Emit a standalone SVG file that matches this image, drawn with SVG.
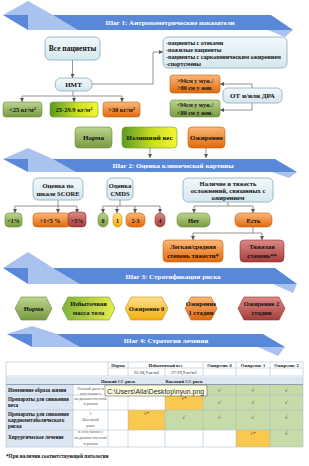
<svg xmlns="http://www.w3.org/2000/svg" width="309" height="466" viewBox="0 0 309 466">
<defs>
<linearGradient id="gBlue" x1="0" y1="0" x2="0" y2="1"><stop offset="0" stop-color="#f2f8fb"/><stop offset="1" stop-color="#d6e7ef"/></linearGradient>
<linearGradient id="gGreen" x1="0" y1="0" x2="0" y2="1"><stop offset="0" stop-color="#bcd58f"/><stop offset="1" stop-color="#789a40"/></linearGradient>
<linearGradient id="gOrange" x1="0" y1="0" x2="0" y2="1"><stop offset="0" stop-color="#fbb87a"/><stop offset="1" stop-color="#e2690b"/></linearGradient>
<linearGradient id="gRed" x1="0" y1="0" x2="0" y2="1"><stop offset="0" stop-color="#dc8a87"/><stop offset="1" stop-color="#a63d3a"/></linearGradient>
<linearGradient id="gYellow" x1="0" y1="0" x2="0" y2="1"><stop offset="0" stop-color="#fde08a"/><stop offset="1" stop-color="#f2ae10"/></linearGradient>
<linearGradient id="gYG" x1="0" y1="0" x2="1" y2="0"><stop offset="0" stop-color="#5a9a22"/><stop offset="0.55" stop-color="#c8de22"/><stop offset="1" stop-color="#f7f432"/></linearGradient>
<linearGradient id="gYG2" x1="0" y1="0" x2="1" y2="0"><stop offset="0" stop-color="#7fb23a"/><stop offset="1" stop-color="#e8ec4a"/></linearGradient>
<marker id="arr" markerUnits="userSpaceOnUse" markerWidth="4" markerHeight="4" refX="4" refY="2" orient="auto"><path d="M0,0 L4,2 L0,4 z" fill="#555"/></marker>
<style>
.bl{fill:#aac3ee}.bd{fill:#5a88d8}
.bt{font-family:"Liberation Serif",serif;font-weight:bold;font-size:7px;fill:#fff;text-anchor:middle}
.t{font-family:"Liberation Serif",serif;font-weight:bold;font-size:7px;fill:#111;text-anchor:middle}
.ts{font-family:"Liberation Serif",serif;font-weight:bold;font-size:6px;fill:#111}
.nb{fill:url(#gBlue);stroke:#86a9bd;stroke-width:0.8}
.ng{fill:url(#gGreen);stroke:#6c8b38;stroke-width:0.6}
.no{fill:url(#gOrange);stroke:#c45f0c;stroke-width:0.6}
.nr{fill:url(#gRed);stroke:#8a3331;stroke-width:0.6}
.ny{fill:url(#gYellow);stroke:#c9900c;stroke-width:0.6}
.nyg{fill:url(#gYG);stroke:#6e9a2a;stroke-width:0.6}
.c{fill:none;stroke:#666;stroke-width:0.7}
.ca{fill:none;stroke:#666;stroke-width:0.7;marker-end:url(#arr)}
.tb{font-family:"Liberation Serif",serif;font-size:4.5px;fill:#222;text-anchor:middle}
.tbb{font-family:"Liberation Serif",serif;font-weight:bold;font-size:5.2px;fill:#111}
.tg{font-family:"Liberation Serif",serif;font-size:4.3px;fill:#666;text-anchor:middle}
.ck{font-family:"DejaVu Sans",sans-serif;font-size:4.5px;fill:#333;text-anchor:middle}
.grid{stroke:#a3b5c9;stroke-width:0.5;fill:none}
</style>
</defs>
<rect width="309" height="466" fill="#fff"/>

<!-- banners -->
<g id="banner1">
<polygon class="bl" points="3,15 28,1 53,15"/>
<polygon class="bd" points="3,15 271,15 293,30 28,30"/>
<polygon class="bl" points="28,15 53,15 78,30 28,30"/>
<polygon class="bl" points="268,30 293,30 285,37"/>
<text class="bt" x="170" y="25">Шаг 1: Антропометрические показатели</text>
</g>
<g id="banner2">
<polygon class="bl" points="3,159 28,148 53,159"/>
<polygon class="bd" points="3,159 275,159 297,172 28,172"/>
<polygon class="bl" points="28,159 53,159 76,172 28,172"/>
<polygon class="bl" points="272,172 297,172 289,178"/>
<text class="bt" x="173" y="168">Шаг 2: Оценка клинической картины</text>
</g>
<g id="banner3">
<polygon class="bl" points="3,268 28,252 53,268"/>
<polygon class="bd" points="3,268 275,268 297,284 28,284"/>
<polygon class="bl" points="28,268 53,268 80,284 28,284"/>
<polygon class="bl" points="273,284 297,284 293,293"/>
<text class="bt" x="173" y="279">Шаг 3: Стратификация риска</text>
</g>
<g id="banner4">
<polygon class="bl" points="7,334 32,326 57,334"/>
<polygon class="bd" points="7,334 263,334 285,347 32,347"/>
<polygon class="bl" points="32,334 57,334 80,347 32,347"/>
<polygon class="bl" points="258,347 285,347 278,356"/>
<text class="bt" x="166" y="343">Шаг 4: Стратегия лечения</text>
</g>

<!-- connectors -->
<g id="connectors">
<path class="ca" d="M72.5,60 V78"/>
<path class="ca" d="M92,84 H153 V52 H163"/>
<path class="c" d="M73,91 V96 M22,96 H122"/>
<path class="ca" d="M22,96 V102"/><path class="ca" d="M74,96 V102"/><path class="ca" d="M122,96 V102"/>
<path class="ca" d="M252,88 V84 H220"/>
<path class="ca" d="M252,103 V110 H220"/>
<path class="ca" d="M150,148 V158"/>
<path class="ca" d="M206,148 V158"/>
<path class="c" d="M58,200 V206 M15,206 H77"/>
<path class="ca" d="M15,206 V213"/><path class="ca" d="M58,206 V213"/><path class="ca" d="M77,206 V213"/>
<path class="c" d="M120,200 V206 M103,206 H160"/>
<path class="ca" d="M103,206 V213"/><path class="ca" d="M117,206 V213"/><path class="ca" d="M135,206 V213"/><path class="ca" d="M160,206 V213"/>
<path class="c" d="M228,202 V206 M194,206 H253"/>
<path class="ca" d="M194,206 V213"/><path class="ca" d="M253,206 V213"/>
<path class="c" d="M253,227 V233 M193,233 H262"/>
<path class="ca" d="M193,233 V240"/><path class="ca" d="M262,233 V240"/>
</g>

<!-- step 1 -->
<g id="n_all"><rect class="nb" x="45" y="37" width="55" height="23" rx="5"/><text class="t" x="72.5" y="51" style="font-size:7.5px">Все пациенты</text></g>
<g id="n_list"><rect class="nb" x="163" y="37" width="124" height="31" rx="5"/>
<text class="ts" x="166" y="44.5">-пациенты с отеками</text>
<text class="ts" x="166" y="51.5">-пожилые пациенты</text>
<text class="ts" x="166" y="58.5">-пациенты с саркопеническим ожирением</text>
<text class="ts" x="166" y="65.5">-спортсмены</text></g>
<g id="n_bmi"><rect class="nb" x="55" y="78" width="37" height="13" rx="6"/><text class="t" x="73.5" y="87">ИМТ</text></g>
<g id="n_lt25"><rect class="ng" x="3" y="102" width="39" height="15" rx="3"/><text class="t" x="22.5" y="112" style="font-size:6.5px">&lt;25 кг/м<tspan dy="-2.5" font-size="4.5">2</tspan></text></g>
<g id="n_25"><rect class="nyg" x="50" y="102" width="48" height="15" rx="3"/><text class="t" x="74" y="112" style="font-size:6.5px">25-29.9 кг/м<tspan dy="-2.5" font-size="4.5">2</tspan></text></g>
<g id="n_gt30"><rect class="no" x="103" y="102" width="37" height="15" rx="3"/><text class="t" x="121.5" y="112" style="font-size:6.5px">&gt;30 кг/м<tspan dy="-2.5" font-size="4.5">2</tspan></text></g>
<g id="n_wc_hi"><rect class="no" x="170" y="75" width="50" height="18" rx="3"/><text class="t" x="195" y="82.5" style="font-size:6px">&gt;94см у муж./</text><text class="t" x="195" y="90" style="font-size:6px">&gt;80 см у жен.</text></g>
<g id="n_wc_lo"><rect class="ng" x="170" y="100" width="50" height="17" rx="3"/><text class="t" x="195" y="107" style="font-size:6px">&lt;94см у муж./</text><text class="t" x="195" y="114.5" style="font-size:6px">&lt;80 см у жен.</text></g>
<g id="n_ot"><rect class="nb" x="223" y="88" width="59" height="15" rx="5"/><text class="t" x="252.5" y="98">ОТ  и/или ДРА</text></g>
<g id="n_norma"><rect class="ng" x="75" y="127" width="37" height="21" rx="4"/><text class="t" x="93.5" y="140">Норма</text></g>
<g id="n_over"><rect class="nyg" x="122" y="127" width="55" height="21" rx="4"/><text class="t" x="149.5" y="140">Излишний вес</text></g>
<g id="n_obes"><rect class="no" x="188" y="127" width="37" height="21" rx="4"/><text class="t" x="206.5" y="140">Ожирение</text></g>

<!-- step 2 -->
<g id="n_score"><rect class="nb" x="33" y="178" width="50" height="22" rx="5"/><text class="t" x="58" y="187.5" style="font-size:6.5px">Оценка по</text><text class="t" x="58" y="196" style="font-size:6.5px">шкале SCORE</text></g>
<g id="n_cmds"><rect class="nb" x="107" y="178" width="26" height="22" rx="5"/><text class="t" x="120" y="187.5" style="font-size:6.5px">Оценка</text><text class="t" x="120" y="196" style="font-size:6.5px">CMDS</text></g>
<g id="n_compl"><rect class="nb" x="183" y="178" width="90" height="24" rx="5"/><text class="t" x="228" y="186" style="font-size:6.5px">Наличие и тяжесть</text><text class="t" x="228" y="193" style="font-size:6.5px">осложнений, связанных с</text><text class="t" x="228" y="200" style="font-size:6.5px">ожирением</text></g>
<g id="n_s1"><rect class="ng" x="5" y="213" width="17" height="14" rx="4"/><text class="t" x="13.5" y="222.5" style="font-size:6px">&lt;1%</text></g>
<g id="n_s2"><rect class="no" x="33" y="213" width="37" height="14" rx="4"/><text class="t" x="50" y="222.5" style="font-size:6px">&gt;1&lt;5 %</text></g>
<g id="n_s3"><rect class="nr" x="68" y="212" width="18" height="15" rx="4"/><text class="t" x="77" y="222.5" style="font-size:6px">&gt;5%</text></g>
<g id="n_c0"><rect class="ng" x="98" y="213" width="10" height="14" rx="5"/><text class="t" x="103" y="222.5" style="font-size:6px">0</text></g>
<g id="n_c1"><rect class="ny" x="113" y="213" width="9" height="14" rx="4.5"/><text class="t" x="117.5" y="222.5" style="font-size:6px">1</text></g>
<g id="n_c23"><rect class="no" x="126" y="213" width="19" height="14" rx="5"/><text class="t" x="135.5" y="222.5" style="font-size:6px">2-3</text></g>
<g id="n_c4"><rect class="nr" x="155" y="213" width="10" height="14" rx="5"/><text class="t" x="160" y="222.5" style="font-size:6px">4</text></g>
<g id="n_no"><rect class="ng" x="177" y="213" width="33" height="14" rx="5"/><text class="t" x="193.5" y="222.5" style="font-size:6.5px">Нет</text></g>
<g id="n_yes"><rect class="no" x="235" y="213" width="37" height="14" rx="5"/><text class="t" x="253.5" y="222.5" style="font-size:6.5px">Есть</text></g>
<g id="n_mild"><rect class="no" x="163" y="240" width="60" height="22" rx="4"/><text class="t" x="193" y="249" style="font-size:6.5px">Легкая/средняя</text><text class="t" x="193" y="257.5" style="font-size:6.5px">степень тяжести*</text></g>
<g id="n_severe"><rect class="nr" x="240" y="240" width="44" height="22" rx="4"/><text class="t" x="262" y="249" style="font-size:6.5px">Тяжелая</text><text class="t" x="262" y="257.5" style="font-size:6.5px">степень**</text></g>

<!-- step 3 -->
<g id="h_norma"><polygon class="ng" points="15,308.5 21,297 46,297 52,308.5 46,320 21,320"/><text class="t" x="33.5" y="311" style="font-size:6.5px">Норма</text></g>
<g id="h_over"><polygon points="62,308.5 68,297 109,297 115,308.5 109,320 68,320" fill="url(#gYG2)" stroke="#6e9a2a" stroke-width="0.6"/><text class="t" x="88.5" y="306" style="font-size:6.5px">Избыточная</text><text class="t" x="88.5" y="314.5" style="font-size:6.5px">масса тела</text></g>
<g id="h_ob0"><polygon class="ny" points="125,308.5 131,297 162,297 168,308.5 162,320 131,320"/><text class="t" x="146.5" y="311" style="font-size:6.5px">Ожирение 0</text></g>
<g id="h_ob1"><polygon class="no" points="185,308.5 191,297 211,297 217,308.5 211,320 191,320"/><text class="t" x="201" y="306" style="font-size:6.5px">Ожирение</text><text class="t" x="201" y="314.5" style="font-size:6.5px">1 стадии</text></g>
<g id="h_ob2"><polygon class="nr" points="238,308.5 244,297 279,297 285,308.5 279,320 244,320"/><text class="t" x="261.5" y="306" style="font-size:6.5px">Ожирение 2</text><text class="t" x="261.5" y="314.5" style="font-size:6.5px">стадии</text></g>

<!-- step 4 table -->
<g id="table">
<rect x="6" y="377" width="297" height="7" fill="#dce6f2"/>
<rect x="6" y="385" width="67" height="62" fill="#dce6f2"/>
<rect x="108" y="385" width="195" height="10" fill="#c5dba8"/>
<rect x="165" y="395" width="38" height="15" fill="#f9c84e"/>
<rect x="203" y="395" width="100" height="15" fill="#c5dba8"/>
<rect x="128" y="410" width="37" height="20" fill="#f9c84e"/>
<rect x="165" y="410" width="138" height="20" fill="#c5dba8"/>
<rect x="236" y="430" width="34" height="17" fill="#f9c84e"/>
<rect x="270" y="430" width="33" height="17" fill="#c5dba8"/>
<path class="grid" d="M6,362 H303 M6,376 H303 M6,384.5 H303 M6,395 H303 M6,410 H303 M6,430 H303 M6,447 H303 M108,368 H303 M6,362 V447 M303,362 V447 M108,362 V376 M108,385 V447 M128,362 V376 M128,385 V447 M165,368 V376 M165,385 V447 M203,362 V376 M203,385 V447 M236,362 V376 M236,385 V447 M270,362 V376 M270,385 V447 M73,385 V447"/>
<path d="M6,384.5 H303" stroke="#7f8fa3" stroke-width="0.8"/>
<text class="tb" x="118" y="366.5" font-weight="bold">Норма</text>
<text class="tb" x="165.5" y="366.5" font-weight="bold">Избыточный вес</text>
<text class="tb" x="219.5" y="366.5" font-weight="bold">Ожирение 0</text>
<text class="tb" x="253" y="366.5" font-weight="bold">Ожирение 1</text>
<text class="tb" x="286.5" y="366.5" font-weight="bold">Ожирение 2</text>
<text class="tb" x="146.5" y="373.5">25-28,9 кг/м2</text>
<text class="tb" x="184" y="373.5">27-29,9 кг/м2</text>
<text class="tb" x="118" y="382.5" font-weight="bold">Низкий СС риск</text>
<text class="tb" x="184" y="382.5" font-weight="bold">Высокий СС риск</text>
<text class="tbb" x="8" y="391.5">Изменение образа жизни</text>
<text class="tbb" x="8" y="401">Препараты для снижения</text>
<text class="tbb" x="8" y="407">веса</text>
<text class="tbb" x="8" y="416">Препараты для снижения</text>
<text class="tbb" x="8" y="422">кардиометаболического</text>
<text class="tbb" x="8" y="428">риска</text>
<text class="tbb" x="8" y="439">Хирургическое лечение</text>
<text class="tg" x="90.5" y="389.5">Низкий риск в</text>
<text class="tg" x="90.5" y="394.5">сочетании с</text>
<text class="tg" x="90.5" y="399.5">медикаментозной</text>
<text class="tg" x="90.5" y="404.5">терапии</text>
<text class="tg" x="90.5" y="415">1</text>
<text class="tg" x="90.5" y="421">Высокий</text>
<text class="tg" x="90.5" y="427">риск</text>
<text class="tg" x="90.5" y="433">в сочетании с</text>
<text class="tg" x="90.5" y="439">медикаментозной</text>
<text class="tg" x="90.5" y="445">терапии</text>
<text class="ck" x="219.5" y="392">√</text><text class="ck" x="253" y="392">√</text><text class="ck" x="286.5" y="392">√</text>
<text class="ck" x="184" y="400">√*</text><text class="ck" x="219.5" y="404">√</text><text class="ck" x="253" y="404">√</text><text class="ck" x="286.5" y="404">√</text>
<text class="ck" x="146.5" y="415">√*</text><text class="ck" x="184" y="419">√</text><text class="ck" x="219.5" y="419">√</text><text class="ck" x="253" y="419">√</text><text class="ck" x="286.5" y="419">√</text>
<text class="ck" x="253" y="435">√*</text><text class="ck" x="286.5" y="435">√</text>
</g>
<g id="tooltip">
<rect x="105" y="385" width="102" height="11" fill="#ffffe1" stroke="#666" stroke-width="0.6"/>
<text x="107" y="393.5" font-family="Liberation Sans, sans-serif" font-size="7" fill="#222" textLength="97" lengthAdjust="spacingAndGlyphs">C:\Users\Alla\Desktop\nyun.png</text>
</g>
<text x="6" y="458" font-family="Liberation Serif, serif" font-weight="bold" font-size="5.2" fill="#111">*При наличии соответствующей патологии</text>
</svg>
